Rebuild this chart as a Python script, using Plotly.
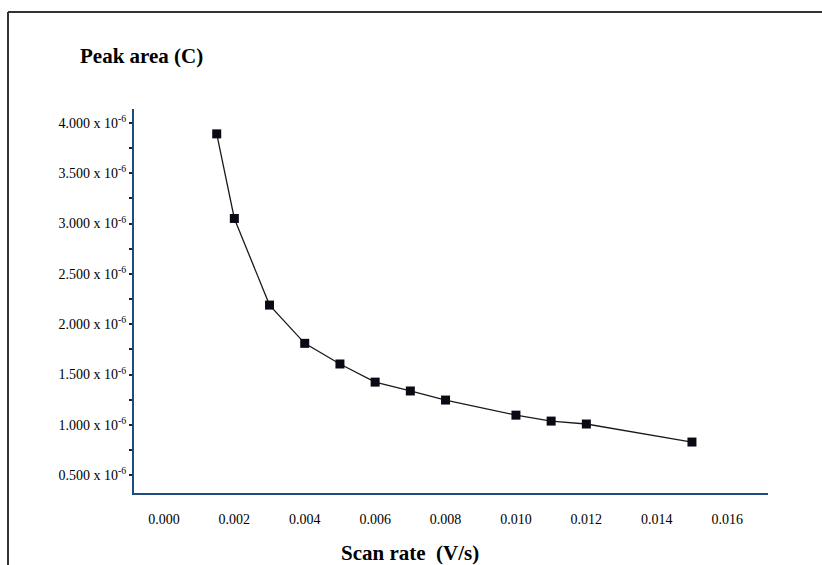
import plotly.graph_objects as go

# Data
scan_rate = [0.0015, 0.002, 0.003, 0.004, 0.005, 0.006, 0.007, 0.008, 0.010, 0.011, 0.012, 0.015]
peak_area = [3.89e-6, 3.05e-6, 2.19e-6, 1.81e-6, 1.605e-6, 1.425e-6, 1.337e-6, 1.247e-6, 1.097e-6, 1.038e-6, 1.009e-6, 0.83e-6]

y_tick_vals = [0.5e-6, 1.0e-6, 1.5e-6, 2.0e-6, 2.5e-6, 3.0e-6, 3.5e-6, 4.0e-6]
y_tick_text = ["0.500 x 10<sup>-6</sup>", "1.000 x 10<sup>-6</sup>", "1.500 x 10<sup>-6</sup>",
               "2.000 x 10<sup>-6</sup>", "2.500 x 10<sup>-6</sup>", "3.000 x 10<sup>-6</sup>",
               "3.500 x 10<sup>-6</sup>", "4.000 x 10<sup>-6</sup>"]
x_tick_vals = [0.000, 0.002, 0.004, 0.006, 0.008, 0.010, 0.012, 0.014, 0.016]
x_tick_text = ["0.000", "0.002", "0.004", "0.006", "0.008", "0.010", "0.012", "0.014", "0.016"]

FONT = "Liberation Serif, Times New Roman, serif"
AXIS_COLOR = "#1d4d7e"

fig = go.Figure()
fig.add_trace(go.Scatter(
    x=scan_rate, y=peak_area, mode="lines+markers",
    line=dict(color="#1a1a1a", width=1.3),
    marker=dict(symbol="square", size=9, color="#0a0a14"),
    showlegend=False, hoverinfo="x+y",
))

L, R, T, B = 134, 54, 109, 72
W, H = 822, 565
pw, ph = W - L - R, H - T - B

def px(xp):
    return (xp - L) / pw

def py(yp):
    return (H - B - yp) / ph

fig.update_layout(
    width=W, height=H,
    margin=dict(l=L, r=R, t=T, b=B),
    paper_bgcolor="white", plot_bgcolor="white",
    font=dict(family=FONT, size=14, color="black"),
    title=dict(text="<b>Peak area (C)</b>", x=80 / W, xanchor="left",
               y=1 - 56 / H, yanchor="middle", xref="container", yref="container",
               font=dict(family=FONT, size=21, color="black")),
    xaxis=dict(range=[-0.00085, 0.01716], tickvals=x_tick_vals, ticktext=x_tick_text,
               showgrid=False, zeroline=False, showline=True, linecolor=AXIS_COLOR,
               linewidth=2, ticks="", ticklabelstandoff=12,
               tickfont=dict(family=FONT, size=14, color="black")),
    yaxis=dict(range=[0.324e-6, 4.137e-6], tickvals=y_tick_vals, ticktext=y_tick_text,
               showgrid=False, zeroline=False, showline=True, linecolor=AXIS_COLOR,
               linewidth=2, ticks="outside", ticklen=3, tickcolor="#222", tickwidth=1.5,
               minor=dict(ticks="outside", tickvals=[0.75e-6, 1.25e-6, 1.75e-6, 2.25e-6,
                                                     2.75e-6, 3.25e-6, 3.75e-6],
                          ticklen=3, tickcolor="#222", tickwidth=1.5),
               tickfont=dict(family=FONT, size=14, color="black")),
    annotations=[dict(text="<b>Scan rate \u00a0(V/s)</b>", xref="paper", yref="paper",
                      x=px(409.5), y=py(553), xanchor="center", yanchor="middle",
                      showarrow=False, font=dict(family=FONT, size=21, color="black"))],
    shapes=[
        dict(type="line", xref="paper", yref="paper", x0=px(8), x1=px(830), y0=py(12), y1=py(12),
             line=dict(color="#333333", width=2)),
        dict(type="line", xref="paper", yref="paper", x0=px(8), x1=px(8), y0=py(12), y1=py(575),
             line=dict(color="#333333", width=2)),
    ],
)

fig.write_html("out.html", config={"displayModeBar": False},
               post_script="document.body.style.margin='0';document.body.style.overflow='hidden';")
